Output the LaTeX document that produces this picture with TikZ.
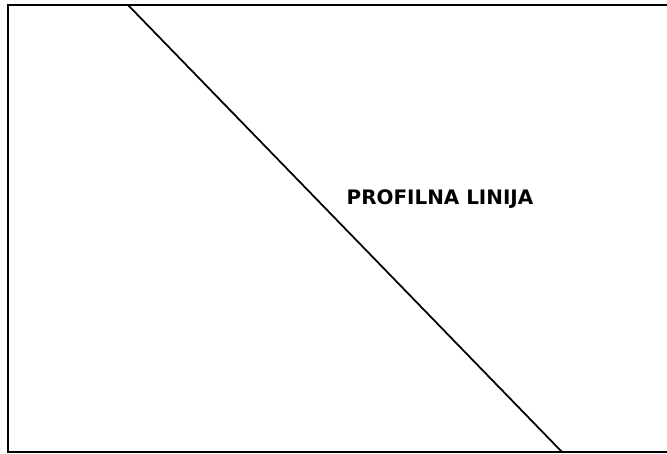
\documentclass[tikz,border=0pt]{standalone}
\usepackage{fontspec}
\setsansfont{DejaVu Sans}
\usetikzlibrary{positioning}
\tikzset{
	frame/.style={draw=black, line width=1.8pt},
	profil/.style={draw=black, line width=1.5pt},
	label/.style={font=\sffamily\bfseries\fontsize{17}{19}\selectfont, inner sep=0pt, anchor=base}
}
\begin{document}
\begin{tikzpicture}[x=0.03cm, y=-0.03cm]
        \useasboundingbox (0,0) rectangle (667,454);
        \begin{scope}
            \clip (0,0) rectangle (667,454);
            \draw[frame] (8,5) rectangle (680,452);
        \end{scope}
        \coordinate (top) at (128,5);
        \coordinate (bottom) at (562,452);
        \draw[profil] (top) -- (bottom);
        \node[label] (name) at (440,205) {PROFILNA LINIJA};
    \end{tikzpicture}
\end{document}
